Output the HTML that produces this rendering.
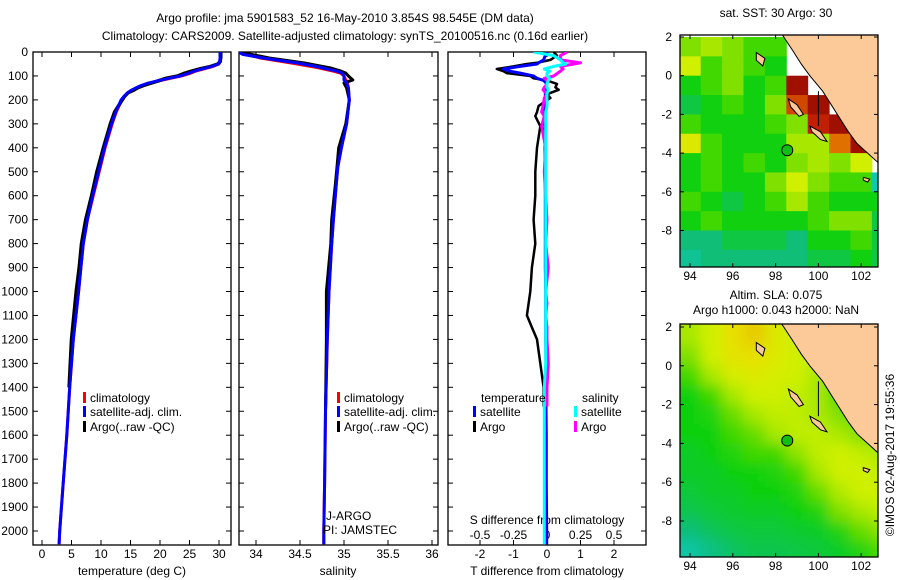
<!DOCTYPE html>
<html><head><meta charset="utf-8"><style>
body{margin:0;background:#fff;}
svg{display:block;font-family:"Liberation Sans",sans-serif;}
text{font-size:12px;fill:#000;}
</style></head><body>
<svg id="fig" width="900" height="580" viewBox="0 0 900 580">
<defs>
<clipPath id="cp1"><rect x="33" y="52" width="198" height="493"/></clipPath>
<clipPath id="cp2"><rect x="239" y="52" width="199" height="493"/></clipPath>
<clipPath id="cp3"><rect x="448" y="52" width="198" height="493"/></clipPath>
<clipPath id="cm1"><rect x="680" y="35" width="198" height="232"/></clipPath>
<clipPath id="cm2"><rect x="680" y="324" width="198" height="233"/></clipPath>
<filter id="blur" x="-10%" y="-10%" width="120%" height="120%"><feGaussianBlur stdDeviation="7"/></filter>
</defs>
<text x="345" y="22" text-anchor="middle">Argo profile: jma 5901583_52 16-May-2010 3.854S 98.545E (DM data)</text>
<text x="345" y="40" text-anchor="middle">Climatology: CARS2009. Satellite-adjusted climatology: synTS_20100516.nc (0.16d earlier)</text>
<text x="776" y="17" text-anchor="middle">sat. SST: 30 Argo: 30</text>
<text x="776" y="299" text-anchor="middle">Altim. SLA: 0.075</text>
<text x="776" y="314" text-anchor="middle">Argo h1000: 0.043 h2000: NaN</text>
<text transform="translate(894,455) rotate(-90)" text-anchor="middle">©IMOS 02-Aug-2017 19:55:36</text>
<g id="root"></g>
</svg>
<script>
// ---- data ----
const depthT = [0,20,40,50,60,70,80,90,100,110,120,130,140,150,160,170,185,200,250,300,400,500,600,700,800,900,1000,1200,1400,1600,1800,2000,2055];
const tempClim = [30.3,30.3,30.2,30.0,29.0,27.5,26.0,25.0,23.6,21.8,20.0,18.3,17.0,16.0,15.2,14.6,14.0,13.5,12.6,11.9,10.7,9.7,8.7,7.7,7.0,6.6,6.2,5.3,4.7,4.2,3.6,3.0,2.9];
const tempSat = [30.2,30.2,30.1,29.9,28.8,27.2,25.8,24.7,23.4,21.5,19.7,18.0,16.8,15.9,15.1,14.5,13.9,13.4,12.5,11.8,10.6,9.6,8.6,7.7,7.0,6.6,6.2,5.3,4.7,4.2,3.6,3.0,2.9];
const tempArgo = [30.3,30.3,30.2,29.8,28.6,26.8,25.3,24.0,23.0,21.0,19.8,18.5,17.2,16.2,15.5,14.6,14.0,13.6,12.3,11.6,10.4,9.3,8.4,7.4,6.7,6.3,5.8,5.0,4.6,null,null,null,null];
const depthS = [0,10,25,46,60,67,80,88,100,117,130,150,200,300,400,480,560,700,800,1000,1200,1500,1800,2000,2055];
const salClim = [33.85,33.9,34.05,34.4,34.62,34.72,34.88,34.96,35.0,35.02,35.04,35.05,35.06,35.03,34.97,34.93,34.91,34.88,34.86,34.83,34.81,34.79,34.78,34.77,34.77];
const salSat = [33.8,33.85,34.08,34.47,34.68,34.76,34.92,34.98,35.0,35.0,35.03,35.05,35.06,35.03,34.97,34.93,34.91,34.88,34.86,34.83,34.81,34.79,34.78,34.77,34.77];
const salArgo = [33.8,33.95,34.15,34.55,34.75,34.85,34.97,35.02,35.05,35.1,35.0,35.03,35.06,35.02,34.94,34.92,34.9,34.86,34.85,34.8,34.8,34.79,null,null,null];
const depthD = [0,15,33,45,50,60,71,80,88,100,110,119,133,148,158,176,192,225,251,268,310,400,500,600,700,800,900,1000,1050,1100,1150,1200,1300,1400,1480,1600,1800,2000,2055];
const tDiffArgo = [0.2,0.3,0.1,-0.3,-0.6,-1.0,-1.5,-1.3,-1.2,-0.5,-0.4,0.0,0.3,0.25,0.35,0.0,0.1,-0.25,-0.3,-0.35,-0.2,-0.3,-0.35,-0.35,-0.4,-0.35,-0.45,-0.5,-0.55,-0.6,-0.45,-0.3,-0.2,-0.1,-0.1,null,null,null,null];
const tDiffSat = [0.0,-0.05,-0.1,-0.25,-0.3,-0.8,-1.3,-1.1,-0.8,-0.4,-0.3,-0.1,0.0,-0.05,-0.05,-0.05,-0.05,-0.06,-0.06,-0.06,-0.06,-0.06,-0.05,-0.05,-0.05,-0.05,-0.05,-0.04,-0.04,-0.04,-0.04,-0.04,-0.03,-0.03,-0.03,-0.02,-0.02,-0.01,-0.01];
const sDiffArgo = [0.15,0.1,0.1,0.25,0.2,0.1,0.12,0.1,0.08,0.05,-0.02,0.0,0.0,-0.02,-0.03,0.0,-0.02,-0.03,-0.04,-0.02,-0.04,-0.01,-0.02,-0.01,0.0,-0.01,0.01,-0.01,0.0,-0.01,0.0,0.0,0.01,0.0,0.0,null,null,null,null];
const sDiffSat = [-0.1,0.05,0.1,0.12,0.14,0.05,-0.02,0.02,0.0,0.0,0.02,0.01,0.0,0.0,0.01,0.0,0.0,0.0,-0.01,-0.01,-0.01,-0.01,-0.01,-0.01,-0.01,-0.01,-0.01,-0.01,-0.01,-0.01,-0.01,-0.01,-0.01,-0.02,-0.02,-0.02,-0.02,-0.02,-0.02];
const depthTicks = [0,100,200,300,400,500,600,700,800,900,1000,1100,1200,1300,1400,1500,1600,1700,1800,1900,2000];
const tempTicks = [0,5,10,15,20,25,30];
const salTicks = [34,34.5,35,35.5,36];
const salTickLabels = ["34","34.5","35","35.5","36"];
const tDiffTicks = [-2,-1,0,1,2];
const sDiffTicks = [-0.5,-0.25,0,0.25,0.5];
const sDiffTickLabels = ["-0.5","-0.25","0","0.25","0.5"];
const mapLonTicks = [94,96,98,100,102];
const mapLatTicks1 = [2,0,-2,-4,-6,-8];
const gridLons = [94,95,96,97,98,99,100,101,102,103];
const gridLats = [1.5,0.5,-0.5,-1.5,-2.5,-3.5,-4.5,-5.5,-6.5,-7.5,-8.5,-9.5];
const sstGrid = [
[0.5,0.55,0.5,0.45,0.45,-1,-1,-1,-1,-1],
[0.6,0.45,0.5,0.45,0.4,-1,-1,-1,-1,-1],
[0.4,0.45,0.5,0.4,0.45,1.0,-1,-1,-1,-1],
[0.35,0.4,0.45,0.4,0.5,0.85,1.0,-1,-1,-1],
[0.45,0.4,0.4,0.4,0.45,0.5,0.9,1.0,-1,-1],
[0.65,0.45,0.4,0.4,0.4,0.55,0.55,0.8,1.0,-1],
[0.4,0.45,0.4,0.45,0.4,0.5,0.55,0.5,0.6,-1],
[0.4,0.45,0.4,0.4,0.5,0.6,0.5,0.45,0.45,0.2],
[0.45,0.4,0.35,0.4,0.45,0.55,0.45,0.4,0.4,0.4],
[0.4,0.45,0.4,0.4,0.4,0.4,0.45,0.5,0.5,0.35],
[0.3,0.3,0.35,0.35,0.35,0.3,0.4,0.4,0.45,0.35],
[0.25,0.3,0.3,0.3,0.3,0.3,0.35,0.35,0.4,0.35]];
const slaGrid = [
[0.55,0.6,0.7,0.72,0.65,0.6,0.6,0.6,0.6,0.6],
[0.5,0.6,0.68,0.7,0.65,0.6,0.58,0.55,0.55,0.55],
[0.45,0.55,0.62,0.65,0.62,0.6,0.55,0.5,0.5,0.5],
[0.4,0.45,0.55,0.6,0.6,0.58,0.55,0.45,0.45,0.45],
[0.4,0.42,0.48,0.55,0.58,0.58,0.55,0.5,0.45,0.45],
[0.4,0.4,0.45,0.48,0.55,0.58,0.58,0.55,0.5,0.5],
[0.38,0.4,0.42,0.45,0.45,0.52,0.58,0.6,0.58,0.55],
[0.38,0.38,0.4,0.4,0.42,0.45,0.55,0.6,0.6,0.58],
[0.36,0.38,0.38,0.4,0.4,0.42,0.48,0.56,0.6,0.6],
[0.34,0.36,0.37,0.38,0.38,0.4,0.42,0.5,0.55,0.58],
[0.3,0.33,0.35,0.36,0.36,0.37,0.38,0.42,0.48,0.52],
[0.22,0.28,0.32,0.34,0.34,0.35,0.36,0.38,0.42,0.46]];
const argoLon = 98.545, argoLat = -3.854;

// ---- helpers ----
const NS = "http://www.w3.org/2000/svg";
const root = document.getElementById('root');
function mk(tag, attrs, parent) {
  const e = document.createElementNS(NS, tag);
  for (const k in attrs) e.setAttribute(k, attrs[k]);
  (parent || root).appendChild(e);
  return e;
}
const yD = d => 52 + d * 0.2395;
const xT = t => 42 + t * 5.9;
const xS = s => 256 + (s - 34) * 88;
const xTD = t => 547 + t * 33.5;
const xSD = s => 547 + s * 134;
const xLon = l => 690 + (l - 94) * 21.4;
const yLat1 = l => 37 + (2 - l) * 19.35;
const yLat2 = l => 327 + (2 - l) * 19.4;

function pathFor(xs, ds, xf) {
  let d = "", pen = false;
  for (let i = 0; i < xs.length; i++) {
    if (xs[i] === null) { pen = false; continue; }
    d += (pen ? "L" : "M") + xf(xs[i]).toFixed(1) + "," + yD(ds[i]).toFixed(1);
    pen = true;
  }
  return d;
}
function panelFrame(x0, x1, name) {
  const r = mk('rect', {x: x0, y: 52, width: x1 - x0, height: 493, fill: 'none', stroke: '#000', 'stroke-width': 1.3});
  
  
  depthTicks.forEach(d => {
    mk('line', {x1: x0, x2: x0 + 5, y1: yD(d), y2: yD(d), stroke: '#000'});
    mk('line', {x1: x1, x2: x1 - 5, y1: yD(d), y2: yD(d), stroke: '#000'});
  });
}
function xTicks(vals, labels, xf, x0, name, y) {
  vals.forEach((v, i) => {
    mk('line', {x1: xf(v), x2: xf(v), y1: 545, y2: 540, stroke: '#000'});
    mk('line', {x1: xf(v), x2: xf(v), y1: 52, y2: 57, stroke: '#000'});
    const t = mk('text', {x: xf(v), y: y || 558, 'text-anchor': 'middle'});
    t.textContent = labels ? labels[i] : String(v);
    
    
  });
}
function series(xs, ds, xf, color, w, clip, name) {
  const p = mk('path', {d: pathFor(xs, ds, xf), fill: 'none', stroke: color, 'stroke-width': w, 'clip-path': 'url(#' + clip + ')', 'stroke-linejoin': 'round'});
  
  
}
function legendItem(x, y, color, label, name) {
  mk('rect', {x: x, y: y - 10, width: 3, height: 11, fill: color});
  const t = mk('text', {x: x + 7, y: y});
  t.textContent = label;
  
  
}
function label(x, y, txt, name, anchor) {
  const t = mk('text', {x: x, y: y, 'text-anchor': anchor || 'start'});
  t.textContent = txt;
  
  
}

depthTicks.forEach(d => {
  const t = mk('text', {x: 28, y: yD(d) + 4, 'text-anchor': 'end'});
  t.textContent = String(d);
  
  
});

panelFrame(33, 231, 'temperature-panel');
xTicks(tempTicks, null, xT, 33, 'temperature');
label(132, 575, 'temperature (deg C)', 'temperature-axis-title', 'middle');
series(tempClim, depthT, xT, '#ff0000', 3, 'cp1', 'temperature-climatology-line');
series(tempArgo, depthT, xT, '#000000', 3.5, 'cp1', 'temperature-argo-line');
series(tempSat, depthT, xT, '#0000ff', 3, 'cp1', 'temperature-satellite-line');
legendItem(83, 402, '#ff0000', 'climatology', 'legend-climatology');
legendItem(83, 416, '#0000ff', 'satellite-adj. clim.', 'legend-satellite-adj');
legendItem(83, 431, '#000000', 'Argo(..raw -QC)', 'legend-argo');

panelFrame(239, 438, 'salinity-panel');
xTicks(salTicks, salTickLabels, xS, 239, 'salinity');
label(338, 575, 'salinity', 'salinity-axis-title', 'middle');
series(salClim, depthS, xS, '#ff0000', 3, 'cp2', 'salinity-climatology-line');
series(salArgo, depthS, xS, '#000000', 3, 'cp2', 'salinity-argo-line');
series(salSat, depthS, xS, '#0000ff', 3, 'cp2', 'salinity-satellite-line');
legendItem(337, 402, '#ff0000', 'climatology', 'legend-climatology-sal');
legendItem(337, 416, '#0000ff', 'satellite-adj. clim.', 'legend-satellite-adj-sal');
legendItem(337, 431, '#000000', 'Argo(..raw -QC)', 'legend-argo-sal');
label(326, 520, 'J-ARGO', 'data-centre-label');
label(323, 534, 'PI: JAMSTEC', 'pi-label');

panelFrame(448, 646, 'difference-panel');
xTicks(tDiffTicks, null, xTD, 448, 'tdiff');
sDiffTicks.forEach((v, i) => {
  const t = mk('text', {x: xSD(v), y: 539, 'text-anchor': 'middle'});
  t.textContent = sDiffTickLabels[i];
  
  
});
label(547, 524, 'S difference from climatology', 'sdiff-axis-title', 'middle');
label(547, 575, 'T difference from climatology', 'tdiff-axis-title', 'middle');
series(tDiffArgo, depthD, xTD, '#000000', 2.5, 'cp3', 'tdiff-argo-line');
series(tDiffSat, depthD, xTD, '#0000ff', 3, 'cp3', 'tdiff-satellite-line');
series(sDiffArgo, depthD, xSD, '#ff00ff', 3, 'cp3', 'sdiff-argo-line');
series(sDiffSat, depthD, xSD, '#00ffff', 3, 'cp3', 'sdiff-satellite-line');
label(481, 402, 'temperature', 'legend-title-temperature');
label(582, 402, 'salinity', 'legend-title-salinity');
legendItem(473, 416, '#0000ff', 'satellite', 'legend-t-satellite');
legendItem(473, 431, '#000000', 'Argo', 'legend-t-argo');
legendItem(574, 416, '#00ffff', 'satellite', 'legend-s-satellite');
legendItem(574, 431, '#ff00ff', 'Argo', 'legend-s-argo');

const cstops = [[0.2,[16,200,176]],[0.3,[16,190,120]],[0.4,[16,208,16]],[0.45,[64,216,0]],[0.5,[128,224,0]],[0.6,[208,240,0]],[0.7,[232,224,0]],[0.8,[224,112,0]],[0.9,[192,32,0]],[1.0,[160,16,0]]];
function cmap(v) {
  if (v <= cstops[0][0]) return 'rgb(' + cstops[0][1] + ')';
  for (let i = 1; i < cstops.length; i++) {
    if (v <= cstops[i][0]) {
      const a = cstops[i-1], b = cstops[i], f = (v - a[0]) / (b[0] - a[0]);
      return 'rgb(' + a[1].map((c, k) => Math.round(c + (b[1][k] - c) * f)).join(',') + ')';
    }
  }
  return 'rgb(' + cstops[cstops.length-1][1] + ')';
}
const coast = [[98.2,2.3],[98.8,1.3],[99.2,0.6],[99.6,0],[100.2,-0.8],[100.6,-1.5],[101,-2.2],[101.4,-2.9],[101.8,-3.5],[102.3,-4],[102.8,-4.5],[103.2,-4.9],[103.2,2.3]];
const islands = [[[97.1,1.2],[97.5,0.9],[97.4,0.5],[97.1,0.8]],[[98.6,-1.2],[99.0,-1.5],[99.3,-2.0],[99.1,-2.1],[98.7,-1.6]],[[99.6,-2.6],[100.1,-2.9],[100.4,-3.4],[100.1,-3.3],[99.7,-2.9]],[[102.1,-5.25],[102.4,-5.35],[102.3,-5.5],[102.1,-5.4]]];
function drawMap(grid, yLat, clip, blur, name, top, bottom, latTicks) {
  const g = mk('g', {'clip-path': 'url(#' + clip + ')'});
  
  
  mk('rect', {x: 680, y: top, width: 198, height: bottom - top, fill: '#fff'}, g);
  const inner = mk('g', blur ? {filter: 'url(#blur)'} : {}, g);
  grid.forEach((row, r) => row.forEach((v, c) => {
    if (v < 0) return;
    const x0 = xLon(gridLons[c] - 0.5), x1 = xLon(gridLons[c] + 0.5);
    let y0 = yLat(gridLats[r] + 0.5), y1 = yLat(gridLats[r] - 0.5);
    if (blur) { if (r === 0) y0 -= 20; if (r === grid.length - 1) y1 += 20; }
    let xa = x0, xb = x1;
    if (blur) { if (c === 0) xa -= 20; if (c === row.length - 1) xb += 20; }
    const cell = mk('rect', {x: xa, y: y0, width: xb - xa + 0.5, height: y1 - y0 + 0.5, fill: cmap(v)}, inner);
    
    
  }));
  const pts = coast.map(p => xLon(p[0]).toFixed(1) + ',' + yLat(p[1]).toFixed(1)).join(' ');
  const land = mk('polygon', {points: pts, fill: '#fbca98', stroke: '#000', 'stroke-width': 1}, g);
  
  
  islands.forEach(is => {
    const ip = is.map(p => xLon(p[0]).toFixed(1) + ',' + yLat(p[1]).toFixed(1)).join(' ');
    const isl = mk('polygon', {points: ip, fill: '#fbca98', stroke: '#000', 'stroke-width': 1}, g);
    
    
  });
  mk('line', {x1: xLon(100), x2: xLon(100), y1: yLat(-0.8), y2: yLat(-2.6), stroke: '#000'}, g);
  const fr = mk('rect', {x: 680, y: top, width: 198, height: bottom - top, fill: 'none', stroke: '#000', 'stroke-width': 1.3});
  
  
  const ac = mk('circle', {cx: xLon(argoLon), cy: yLat(argoLat), r: 5.5, fill: '#10c010', stroke: '#000', 'stroke-width': 1});
  
  
  mapLonTicks.forEach(l => {
    mk('line', {x1: xLon(l), x2: xLon(l), y1: bottom, y2: bottom - 4, stroke: '#000'});
    mk('line', {x1: xLon(l), x2: xLon(l), y1: top, y2: top + 4, stroke: '#000'});
    const t = mk('text', {x: xLon(l), y: bottom + 13, 'text-anchor': 'middle'});
    t.textContent = String(l);
    
    
  });
  latTicks.forEach(l => {
    mk('line', {x1: 680, x2: 684, y1: yLat(l), y2: yLat(l), stroke: '#000'});
    mk('line', {x1: 878, x2: 874, y1: yLat(l), y2: yLat(l), stroke: '#000'});
    const t = mk('text', {x: 672, y: yLat(l) + 4, 'text-anchor': 'end'});
    t.textContent = String(l);
    
    
  });
}
drawMap(sstGrid, yLat1, 'cm1', false, 'sst-map', 35, 267, mapLatTicks1);
drawMap(slaGrid, yLat2, 'cm2', true, 'sla-map', 324, 557, mapLatTicks1);
</script>
</body></html>
